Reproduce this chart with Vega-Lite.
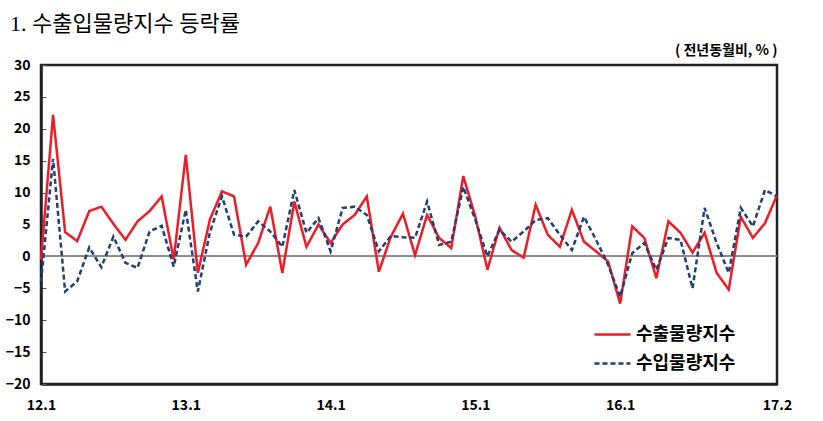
{
  "$schema": "https://vega.github.io/schema/vega-lite/v6.json",
  "autosize": "none",
  "width": 736,
  "height": 319,
  "padding": {"left": 41, "top": 65, "right": 46, "bottom": 37},
  "background": "white",
  "title": {
    "text": "1. 수출입물량지수 등락률",
    "anchor": "start",
    "frame": "group",
    "dx": -31,
    "offset": 7,
    "font": "Liberation Serif, Noto Sans CJK KR",
    "fontSize": 22,
    "fontWeight": "normal",
    "color": "#000"
  },
  "data": {
    "values": [
      {"t": "12.1", "ex": -0.5, "im": -4},
      {"t": "12.2", "ex": 22.2, "im": 15.3},
      {"t": "12.3", "ex": 3.8, "im": -5.5},
      {"t": "12.4", "ex": 2.4, "im": -3.9},
      {"t": "12.5", "ex": 7.1, "im": 1.4},
      {"t": "12.6", "ex": 7.8, "im": -1.7},
      {"t": "12.7", "ex": 5.1, "im": 3.1},
      {"t": "12.8", "ex": 2.6, "im": -1},
      {"t": "12.9", "ex": 5.5, "im": -1.8},
      {"t": "12.10", "ex": 7.1, "im": 3.9},
      {"t": "12.11", "ex": 9.4, "im": 4.8},
      {"t": "12.12", "ex": -0.5, "im": -1.6},
      {"t": "13.1", "ex": 15.9, "im": 7.3},
      {"t": "13.2", "ex": -2.6, "im": -5.5},
      {"t": "13.3", "ex": 5.8, "im": 3.8},
      {"t": "13.4", "ex": 10.2, "im": 9.4},
      {"t": "13.5", "ex": 9.4, "im": 3.4},
      {"t": "13.6", "ex": -1.3, "im": 3.1},
      {"t": "13.7", "ex": 2.1, "im": 5.5},
      {"t": "13.8", "ex": 7.8, "im": 3.9},
      {"t": "13.9", "ex": -2.6, "im": 1.5},
      {"t": "13.10", "ex": 8.6, "im": 10.4},
      {"t": "13.11", "ex": 1.5, "im": 3.7},
      {"t": "13.12", "ex": 5, "im": 6},
      {"t": "14.1", "ex": 2.1, "im": 0.8},
      {"t": "14.2", "ex": 5, "im": 7.6},
      {"t": "14.3", "ex": 6.5, "im": 7.8},
      {"t": "14.4", "ex": 9.4, "im": 6.5},
      {"t": "14.5", "ex": -2.4, "im": 0.8},
      {"t": "14.6", "ex": 3.1, "im": 3.2},
      {"t": "14.7", "ex": 6.7, "im": 3},
      {"t": "14.8", "ex": 0.2, "im": 2.9},
      {"t": "14.9", "ex": 6.5, "im": 8.6},
      {"t": "14.10", "ex": 2.9, "im": 1.8},
      {"t": "14.11", "ex": 1.3, "im": 2.3},
      {"t": "14.12", "ex": 12.6, "im": 10.9},
      {"t": "15.1", "ex": 6.2, "im": 5.7},
      {"t": "15.2", "ex": -2.1, "im": 0},
      {"t": "15.3", "ex": 4.5, "im": 4.2},
      {"t": "15.4", "ex": 1, "im": 2.3},
      {"t": "15.5", "ex": -0.2, "im": 3.9},
      {"t": "15.6", "ex": 8.1, "im": 5.7},
      {"t": "15.7", "ex": 3.4, "im": 6},
      {"t": "15.8", "ex": 1.5, "im": 3.4},
      {"t": "15.9", "ex": 7.3, "im": 1},
      {"t": "15.10", "ex": 2.3, "im": 6.2},
      {"t": "15.11", "ex": 0.8, "im": 2.6},
      {"t": "15.12", "ex": -0.8, "im": -1.3},
      {"t": "16.1", "ex": -7.4, "im": -6.3},
      {"t": "16.2", "ex": 4.7, "im": 0.5},
      {"t": "16.3", "ex": 2.9, "im": 2.1},
      {"t": "16.4", "ex": -3.4, "im": -2.1},
      {"t": "16.5", "ex": 5.5, "im": 2.9},
      {"t": "16.6", "ex": 3.7, "im": 2.6},
      {"t": "16.7", "ex": 0.6, "im": -5},
      {"t": "16.8", "ex": 3.7, "im": 7.6},
      {"t": "16.9", "ex": -2.6, "im": 2.1},
      {"t": "16.10", "ex": -5.2, "im": -2.6},
      {"t": "16.11", "ex": 6.2, "im": 7.6},
      {"t": "16.12", "ex": 2.9, "im": 4.7},
      {"t": "17.1", "ex": 5.2, "im": 10.4},
      {"t": "17.2", "ex": 9.6, "im": 9.4}
    ]
  },
  "layer": [
    {
      "mark": {"type": "rule", "color": "#8c8c8c", "strokeWidth": 1},
      "encoding": {
        "y": {
          "datum": 0,
          "type": "quantitative",
          "scale": {"domain": [-20, 30], "nice": false},
          "axis": {
            "title": "( 전년동월비, % )",
            "values": [-20, -15, -10, -5, 0, 5, 10, 15, 20, 25, 30]
          }
        }
      }
    },
    {
      "transform": [
        {"fold": ["ex", "im"], "as": ["key", "value"]},
        {"lookup": "key", "from": {"data": {"values": [{"key": "ex", "series": "수출물량지수"}, {"key": "im", "series": "수입물량지수"}]}, "key": "key", "fields": ["series"]}}
      ],
      "mark": {"type": "line", "strokeWidth": 2.5},
      "encoding": {
        "x": {
          "field": "t",
          "type": "ordinal",
          "sort": null,
          "scale": {"type": "point", "padding": 0},
          "axis": {
            "title": null,
            "values": ["12.1", "13.1", "14.1", "15.1", "16.1", "17.2"],
            "labelAngle": 0,
            "ticks": false,
            "labelPadding": 14,
            "labelFont": "Noto Sans CJK KR",
            "labelFontWeight": "bold",
            "labelFontSize": 14,
            "labelColor": "#000",
            "domainColor": "#222",
            "domainWidth": 2.5,
            "grid": false
          }
        },
        "y": {
          "field": "value",
          "type": "quantitative",
          "scale": {"domain": [-20, 30], "nice": false},
          "axis": {
            "title": "( 전년동월비, % )",
            "values": [-20, -15, -10, -5, 0, 5, 10, 15, 20, 25, 30]
          }
        },
        "color": {
          "field": "series",
          "type": "nominal",
          "scale": {"domain": ["수출물량지수", "수입물량지수"], "range": ["#ee1c25", "#1f3f77"]},
          "legend": {
            "title": null,
            "orient": "none",
            "legendX": 552,
            "legendY": 250,
            "symbolType": "stroke",
            "symbolSize": 1300,
            "symbolStrokeWidth": 2.5,
            "labelFont": "Noto Sans CJK KR",
            "labelFontWeight": "bold",
            "labelFontSize": 18,
            "labelColor": "#000",
            "rowPadding": -14,
            "labelOffset": 4
          }
        },
        "strokeDash": {
          "field": "series",
          "type": "nominal",
          "scale": {"domain": ["수출물량지수", "수입물량지수"], "range": [[1, 0], [5, 3]]},
          "legend": null
        }
      }
    }
  ],
  "config": {
    "view": {"stroke": "#222", "strokeWidth": 2.5},
    "axisY": {
      "titleAngle": 0,
      "titleX": 736,
      "titleY": -15,
      "titleAlign": "right",
      "titleBaseline": "middle",
      "titleFont": "Noto Sans CJK KR",
      "titleFontWeight": "bold",
      "titleFontSize": 14,
      "titleColor": "#000",
      "labelOverlap": false,
      "tickSize": -5,
      "tickColor": "#555",
      "labelPadding": 16,
      "labelFont": "Noto Sans CJK KR",
      "labelFontWeight": "bold",
      "labelFontSize": 14,
      "labelColor": "#000",
      "domainColor": "#222",
      "domainWidth": 2.5,
      "grid": false
    }
  }
}
